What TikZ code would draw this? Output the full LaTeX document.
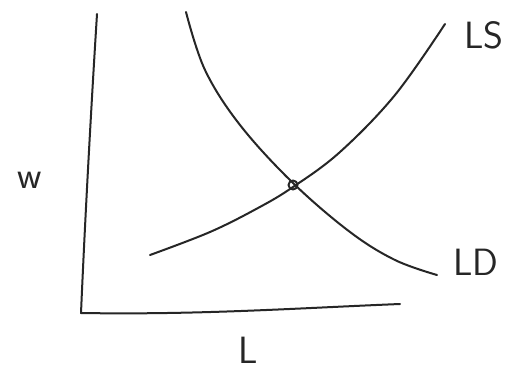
\documentclass[tikz,border=0pt]{standalone}
\begin{document}
\begin{tikzpicture}[x=1pt,y=-1pt,
  ink/.style={line width=2pt,color=black!85,line cap=round,line join=round},
  hand/.style={font=\fontsize{38}{40}\selectfont\sffamily,text=black!85,inner sep=0pt}]
\useasboundingbox[fill=white] (0,0) rectangle (518,385);
% axes
\coordinate (top) at (97,14);
\coordinate (origin) at (81,313);
\coordinate (right) at (400,304);
\draw[ink] (top) .. controls (91,110) and (85,220) .. (origin) .. controls (200,315) and (300,308) .. (right);
% demand curve LD
\draw[ink] plot[smooth,tension=0.6] coordinates {(186,12) (205,70) (240,125) (293,183) (350,232) (395,260) (437,275)};
% supply curve LS
\draw[ink] plot[smooth,tension=0.6] coordinates {(150,255) (210,232) (258,208) (293,187) (340,152) (395,95) (445,24)};
% equilibrium
\node[ink,draw,circle,minimum size=9pt,inner sep=0pt] (eq) at (293,185) {};
% labels
\node[hand] (w) at (30,180) {w};
\node[hand] (Lab) at (248,350) {L};
\node[hand] (LS) at (484,35) {LS};
\node[hand] (LD) at (476,262) {LD};
\end{tikzpicture}
\end{document}
